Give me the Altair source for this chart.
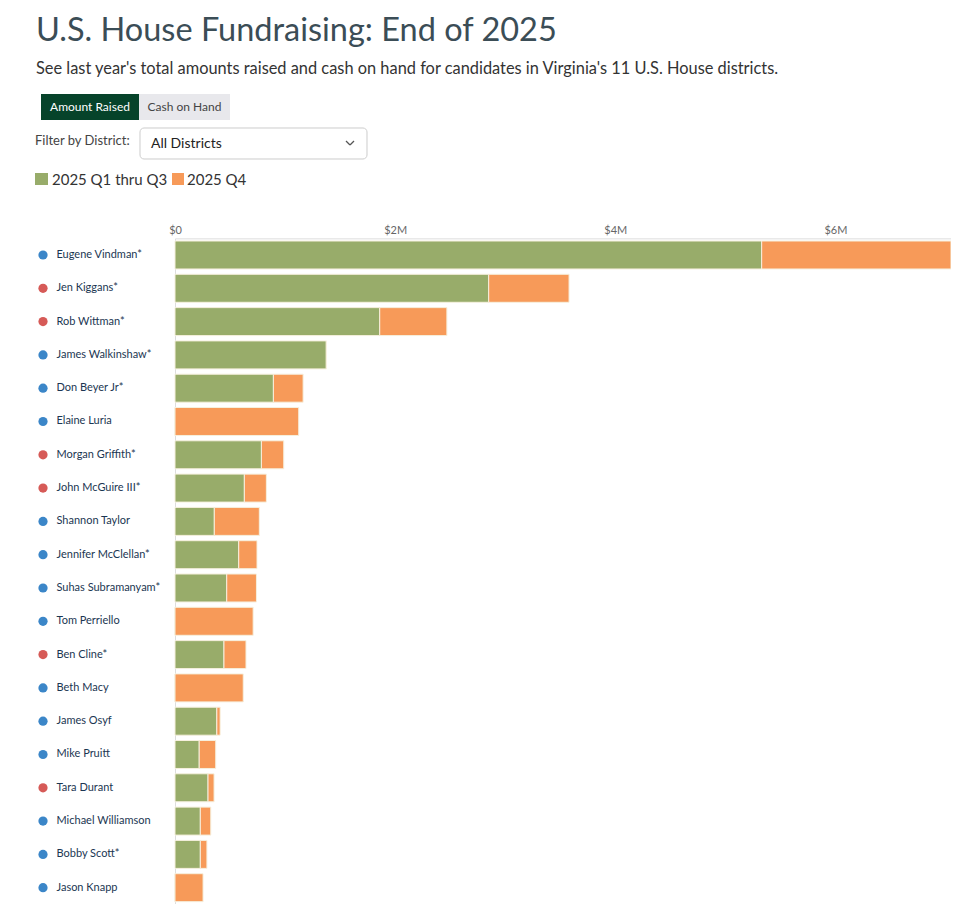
import altair as alt
import pandas as pd

names = ["Eugene Vindman*", "Jen Kiggans*", "Rob Wittman*", "James Walkinshaw*", "Don Beyer Jr*",
         "Elaine Luria", "Morgan Griffith*", "John McGuire III*", "Shannon Taylor", "Jennifer McClellan*",
         "Suhas Subramanyam*", "Tom Perriello", "Ben Cline*", "Beth Macy", "James Osyf",
         "Mike Pruitt", "Tara Durant", "Michael Williamson", "Bobby Scott*", "Jason Knapp"]
party = ["D", "R", "R", "D", "D", "D", "R", "R", "D", "D",
         "D", "D", "R", "D", "D", "D", "R", "D", "D", "D"]
# amounts in millions of dollars
q1_q3 = [5.33, 2.85, 1.86, 1.375, 0.894, 0.0, 0.785, 0.63, 0.357, 0.579,
         0.47, 0.0, 0.445, 0.0, 0.38, 0.22, 0.30, 0.23, 0.23, 0.0]
q4 = [1.72, 0.73, 0.61, 0.0, 0.27, 1.124, 0.203, 0.20, 0.409, 0.166,
      0.27, 0.71, 0.20, 0.62, 0.03, 0.15, 0.055, 0.095, 0.06, 0.255]
series = ["2025 Q1 thru Q3", "2025 Q4"]
tick_values = [0, 2, 4, 6]

title_text = "U.S. House Fundraising: End of 2025"
subtitle_text = "See last year's total amounts raised and cash on hand for candidates in Virginia's 11 U.S. House districts."
btn_labels = ["Amount Raised", "Cash on Hand"]
filter_label = "Filter by District:"
dropdown_label = "All Districts"

GREEN = "#98ac6a"
ORANGE = "#f79a59"
FONT = "Lato"

rows = []
for i, n in enumerate(names):
    rows.append({"name": n, "series": series[0], "value": q1_q3[i], "ord": 0})
    rows.append({"name": n, "series": series[1], "value": q4[i], "ord": 1})
long_df = pd.DataFrame(rows)
wide_df = pd.DataFrame({"name": names, "party": party})

y_enc = alt.Y("name:N", sort=names, title=None,
              scale=alt.Scale(paddingInner=0.16, paddingOuter=0.08),
              axis=alt.Axis(domain=False, ticks=False, labelAlign="left", labelPadding=119,
                            labelFont=FONT, labelFontSize=11, labelColor="#1b3652",
                            labelLimit=200, labelBaseline="middle"))

bars = alt.Chart(long_df).mark_bar(stroke="#f6f0de", strokeWidth=1).encode(
    x=alt.X("value:Q", stack="zero", title=None,
            scale=alt.Scale(domain=[0, 7.05], nice=False),
            axis=alt.Axis(orient="top", values=tick_values, grid=False, domain=False, ticks=False,
                          labelFlush=False, labelPadding=3, labelFont=FONT, labelFontSize=11,
                          labelColor="#666666",
                          labelExpr="datum.value == 0 ? '$0' : '$' + datum.value + 'M'")),
    y=y_enc,
    color=alt.Color("series:N", scale=alt.Scale(domain=series, range=[GREEN, ORANGE]), legend=None),
    order=alt.Order("ord:Q"),
)

dots = alt.Chart(wide_df).mark_circle(size=85, opacity=1).encode(
    x=alt.value(-132),
    y=y_enc,
    fill=alt.Fill("party:N", scale=alt.Scale(domain=["D", "R"], range=["#3b86c8", "#d65a57"]), legend=None),
)


def text_layer(txt, x, y, size, color, align="left", baseline="alphabetic", weight="normal"):
    return alt.Chart(pd.DataFrame({"t": [txt]})).mark_text(
        align=align, baseline=baseline, font=FONT, fontSize=size, color=color, fontWeight=weight
    ).encode(text="t:N", x=alt.value(x), y=alt.value(y))


def rect_layer(x, x2, y, y2, fill, stroke=None, radius=0):
    kw = dict(fill=fill, cornerRadius=radius)
    if stroke:
        kw["stroke"] = stroke
        kw["strokeWidth"] = 1
    return alt.Chart(pd.DataFrame({"k": [0]})).mark_rect(**kw).encode(
        x=alt.value(x), x2=alt.value(x2), y=alt.value(y), y2=alt.value(y2))


def seg(x, x2, y, y2):
    return alt.Chart(pd.DataFrame({"k": [0]})).mark_rule(color="#555555", strokeWidth=1.2).encode(
        x=alt.value(x), x2=alt.value(x2), y=alt.value(y), y2=alt.value(y2))


header = [
    text_layer(title_text, -139, -196.85, 32.5, "#3b4d56"),
    text_layer(subtitle_text, -139, -164.5, 16.4, "#333333"),
    rect_layer(-134, -36, -144.35, -118.35, "#06432a"),
    rect_layer(-36, 55, -144.35, -118.35, "#e8e8ec"),
    text_layer(btn_labels[0], -85, -131.35, 12, "#ffffff", align="center", baseline="middle"),
    text_layer(btn_labels[1], 9.5, -131.35, 12, "#444444", align="center", baseline="middle"),
    text_layer(filter_label, -140, -93.5, 13, "#444444"),
    rect_layer(-35, 192, -110.35, -79.35, "#ffffff", stroke="#cccccc", radius=4),
    text_layer(dropdown_label, -24, -90.5, 14, "#222222"),
    seg(171, 175, -97.35, -93.35),
    seg(175, 179, -93.35, -97.35),
    rect_layer(-140, -127, -65.35, -53.35, GREEN),
    text_layer(series[0], -123, -53.35, 15, "#333333"),
    rect_layer(-3, 9, -65.35, -53.35, ORANGE),
    text_layer(series[1], 12, -53.35, 15, "#333333"),
]

chart = alt.layer(bars, dots, *header).resolve_scale(color="independent").properties(
    width=776, height=666,
    autosize=alt.AutoSizeParams(type="none"),
    padding={"left": 167, "top": 230.35, "right": 0, "bottom": 0},
).configure_view(stroke=None).configure(font=FONT)

chart.save("out.html", embed_options={"renderer": "svg", "actions": False})
